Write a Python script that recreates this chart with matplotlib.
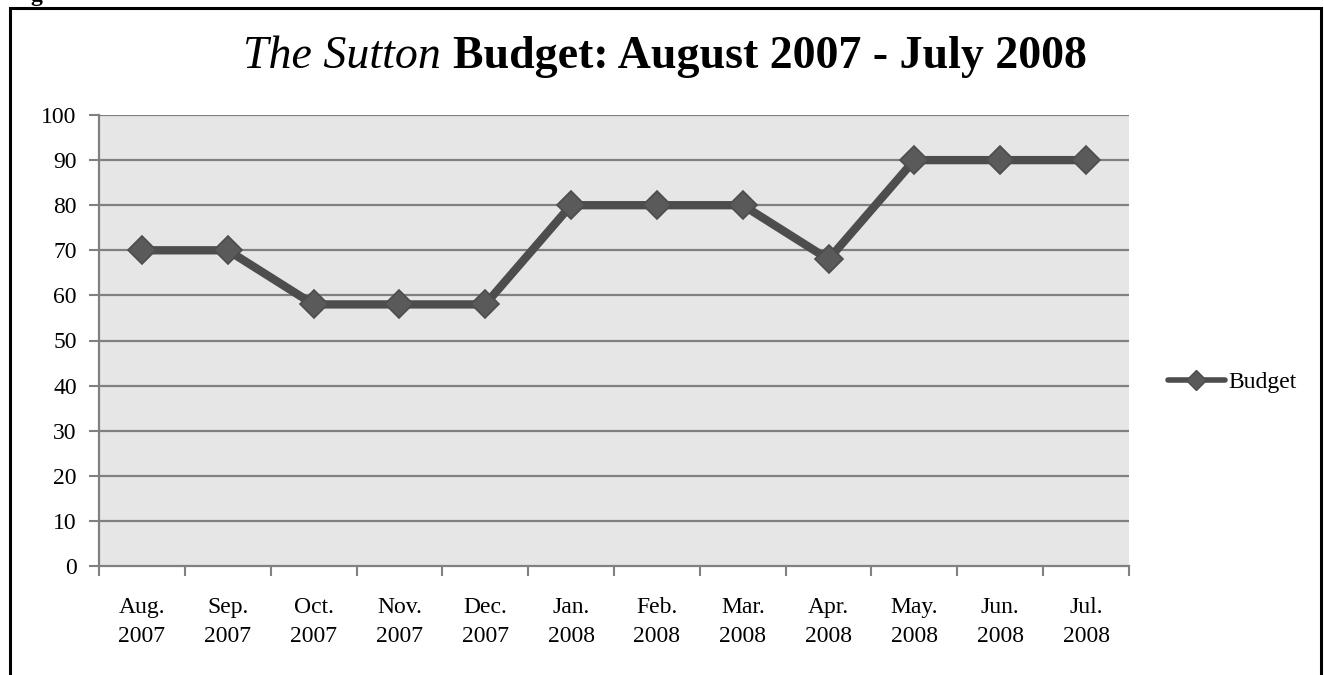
import matplotlib
matplotlib.use("Agg")
import matplotlib.pyplot as plt
from matplotlib.patches import Rectangle
from matplotlib.lines import Line2D

months = ["Aug.\n2007", "Sep.\n2007", "Oct.\n2007", "Nov.\n2007", "Dec.\n2007", "Jan.\n2008",
          "Feb.\n2008", "Mar.\n2008", "Apr.\n2008", "May.\n2008", "Jun.\n2008", "Jul.\n2008"]
budget = [70, 70, 58, 58, 58, 80, 80, 80, 68, 90, 90, 90]
yticks = [0, 10, 20, 30, 40, 50, 60, 70, 80, 90, 100]

plt.rcParams['font.family'] = ['Liberation Serif', 'DejaVu Serif']

W, H = 1324, 675
fig = plt.figure(figsize=(W / 100, H / 100), dpi=100)

# outer frame
fig.patches.append(Rectangle((10 / W, -0.05), (1321 - 10) / W, 1.05 - 8 / H,
                             transform=fig.transFigure, fill=False, edgecolor='black',
                             linewidth=2.2))
fig.text(36 / W, 1 - 1 / H, "g", fontsize=17, weight='bold', ha='center', va='baseline',
         color='black')

ax = fig.add_axes([99 / W, 1 - 566 / H, (1129 - 99) / W, (566 - 115) / H])
ax.set_facecolor('#e6e6e6')
x = list(range(len(months)))
ax.set_xlim(-0.5, len(months) - 0.5)
ax.set_ylim(0, 100)
ax.set_yticks(yticks)
ax.set_yticklabels([str(v) for v in yticks], fontsize=17)
for v in yticks[1:]:
    ax.axhline(v, color='#808080', linewidth=1.6, zorder=1)

ax.set_xticks(x)
ax.set_xticklabels(months, fontsize=17, linespacing=1.5)
ax.set_xticks([i - 0.5 for i in range(len(months) + 1)], minor=True)
ax.tick_params(axis='x', which='major', length=0, pad=22)
ax.tick_params(axis='x', which='minor', length=7, width=1.5, color='#808080')
ax.tick_params(axis='y', length=7, width=1.5, color='#808080', pad=9)

for s in ['top', 'right']:
    ax.spines[s].set_visible(False)
for s in ['left', 'bottom']:
    ax.spines[s].set_color('#808080')
    ax.spines[s].set_linewidth(1.6)

ax.plot(x, budget, color='#4d4d4d', linewidth=6, marker='D', markersize=14,
        markerfacecolor='#5a5a5a', markeredgecolor='#4d4d4d', markeredgewidth=1.2,
        zorder=3, clip_on=False, label='Budget')

handle = Line2D([0], [0], color='#4d4d4d', linewidth=4, marker='D', markersize=10,
                markerfacecolor='#5a5a5a', markeredgecolor='#4d4d4d',
                solid_capstyle='round')
fig.legend([handle], ['Budget'], loc='center left', bbox_to_anchor=(1168 / W, 1 - 382 / H),
           frameon=False, fontsize=17, handlelength=2.4, handletextpad=0.15,
           borderaxespad=0, borderpad=0)

# title with italic + bold parts
fig.canvas.draw()
r = fig.canvas.get_renderer()
ty = 1 - 68 / H
t1 = fig.text(0, ty, "The Sutton ", fontsize=33, style='italic', va='baseline', ha='left')
t2 = fig.text(0, ty, "Budget: August 2007 - July 2008", fontsize=33, weight='bold',
              va='baseline', ha='left')
w1 = t1.get_window_extent(r).width
w2 = t2.get_window_extent(r).width
start = 665 - (w1 + w2) / 2
t1.set_x(start / W)
t2.set_x((start + w1) / W)

fig.savefig("out.png", dpi=100)
